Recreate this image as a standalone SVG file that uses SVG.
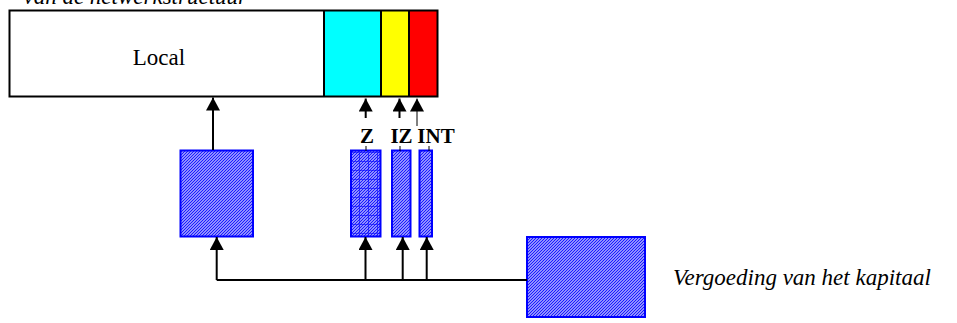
<svg xmlns="http://www.w3.org/2000/svg" width="957" height="323" viewBox="0 0 957 323">
<style>
.t{font-family:"Liberation Serif","Times New Roman",serif;fill:#000}
.lbl{font-size:21px;font-weight:bold;text-anchor:middle}
.blk{fill:none;stroke:#000;stroke-width:2}
.hatch{fill:url(#hp);stroke:#0000ff;stroke-width:2}
.conn{fill:none;stroke:#000;stroke-width:2}
.thin{fill:none;stroke:#000;stroke-width:1}
</style>
<defs>
<pattern id="hp" width="3" height="3" patternUnits="userSpaceOnUse">
<rect width="3" height="3" fill="#ffffff"/>
<path d="M-1,1 L1,-1 M0,3 L3,0 M2,4 L4,2" stroke="#1a1aff" stroke-width="1.4"/>
</pattern>
<pattern id="hpg" width="9" height="9" patternUnits="userSpaceOnUse">
<rect width="9" height="9" fill="url(#hp)"/>
<path d="M0,8.5 H9 M8.5,0 V9" stroke="#0000ff" stroke-width="1" opacity="0.6"/>
</pattern>
<marker id="ah" markerWidth="13" markerHeight="14" refX="13" refY="7" orient="auto" markerUnits="userSpaceOnUse" viewBox="0 0 13 14">
<path d="M0,0 L13,7 L0,14 Z" fill="#000"/>
</marker>
</defs>

<text class="t" x="247" y="3.5" font-size="23" font-style="italic" text-anchor="end">van de netwerkstructuur</text>

<g id="main-bar">
<rect x="9.5" y="10.5" width="314.5" height="86" fill="#ffffff"/>
<rect x="324" y="10.5" width="57" height="86" fill="#00ffff"/>
<rect x="381" y="10.5" width="28" height="86" fill="#ffff00"/>
<rect x="409" y="10.5" width="28.5" height="86" fill="#ff0000"/>
<rect x="9.5" y="10.5" width="428" height="86" class="blk"/>
<path d="M324,10.5 V96.5 M381,10.5 V96.5 M409,10.5 V96.5" class="blk"/>
<text class="t" x="159" y="65" font-size="23" text-anchor="middle">Local</text>
</g>

<g id="box-local">
<rect x="180.5" y="150.5" width="72.5" height="86" class="hatch"/>
</g>
<g id="box-z">
<rect x="351" y="150.5" width="29.5" height="86" fill="url(#hpg)" stroke="#0000ff" stroke-width="2"/>
<text class="t lbl" x="367" y="143">Z</text>
</g>
<g id="box-iz">
<rect x="392" y="150.5" width="18.5" height="86" class="hatch"/>
<text class="t lbl" x="401.5" y="143">IZ</text>
</g>
<g id="box-int">
<rect x="419.5" y="150.5" width="12.5" height="86" class="hatch"/>
<text class="t lbl" x="436" y="143">INT</text>
</g>
<g id="box-capital">
<rect x="527" y="237" width="118" height="80" class="hatch"/>
</g>
<g id="label-capital">
<text class="t" x="673" y="285" font-size="23" font-style="italic">Vergoeding van het kapitaal</text>
</g>

<g id="connectors">
<path d="M213,150 V97.5" class="conn" marker-end="url(#ah)"/>
<path d="M365.7,118 V98.5" class="conn" marker-end="url(#ah)"/>
<path d="M399.5,118 V98.5" class="conn" marker-end="url(#ah)"/>
<path d="M417,126 V98.5" class="thin" stroke="#777" marker-end="url(#ah)"/>
<path d="M366,146 V151 M400,146 V151 M429,146 V151" class="thin"/>
<path d="M527,280 H216.7" class="conn"/>
<path d="M216.7,280 V237" class="conn" marker-end="url(#ah)"/>
<path d="M365.5,280 V237" class="conn" marker-end="url(#ah)"/>
<path d="M402.7,280 V237" class="conn" marker-end="url(#ah)"/>
<path d="M426.7,280 V237" class="conn" marker-end="url(#ah)"/>
</g>
</svg>
